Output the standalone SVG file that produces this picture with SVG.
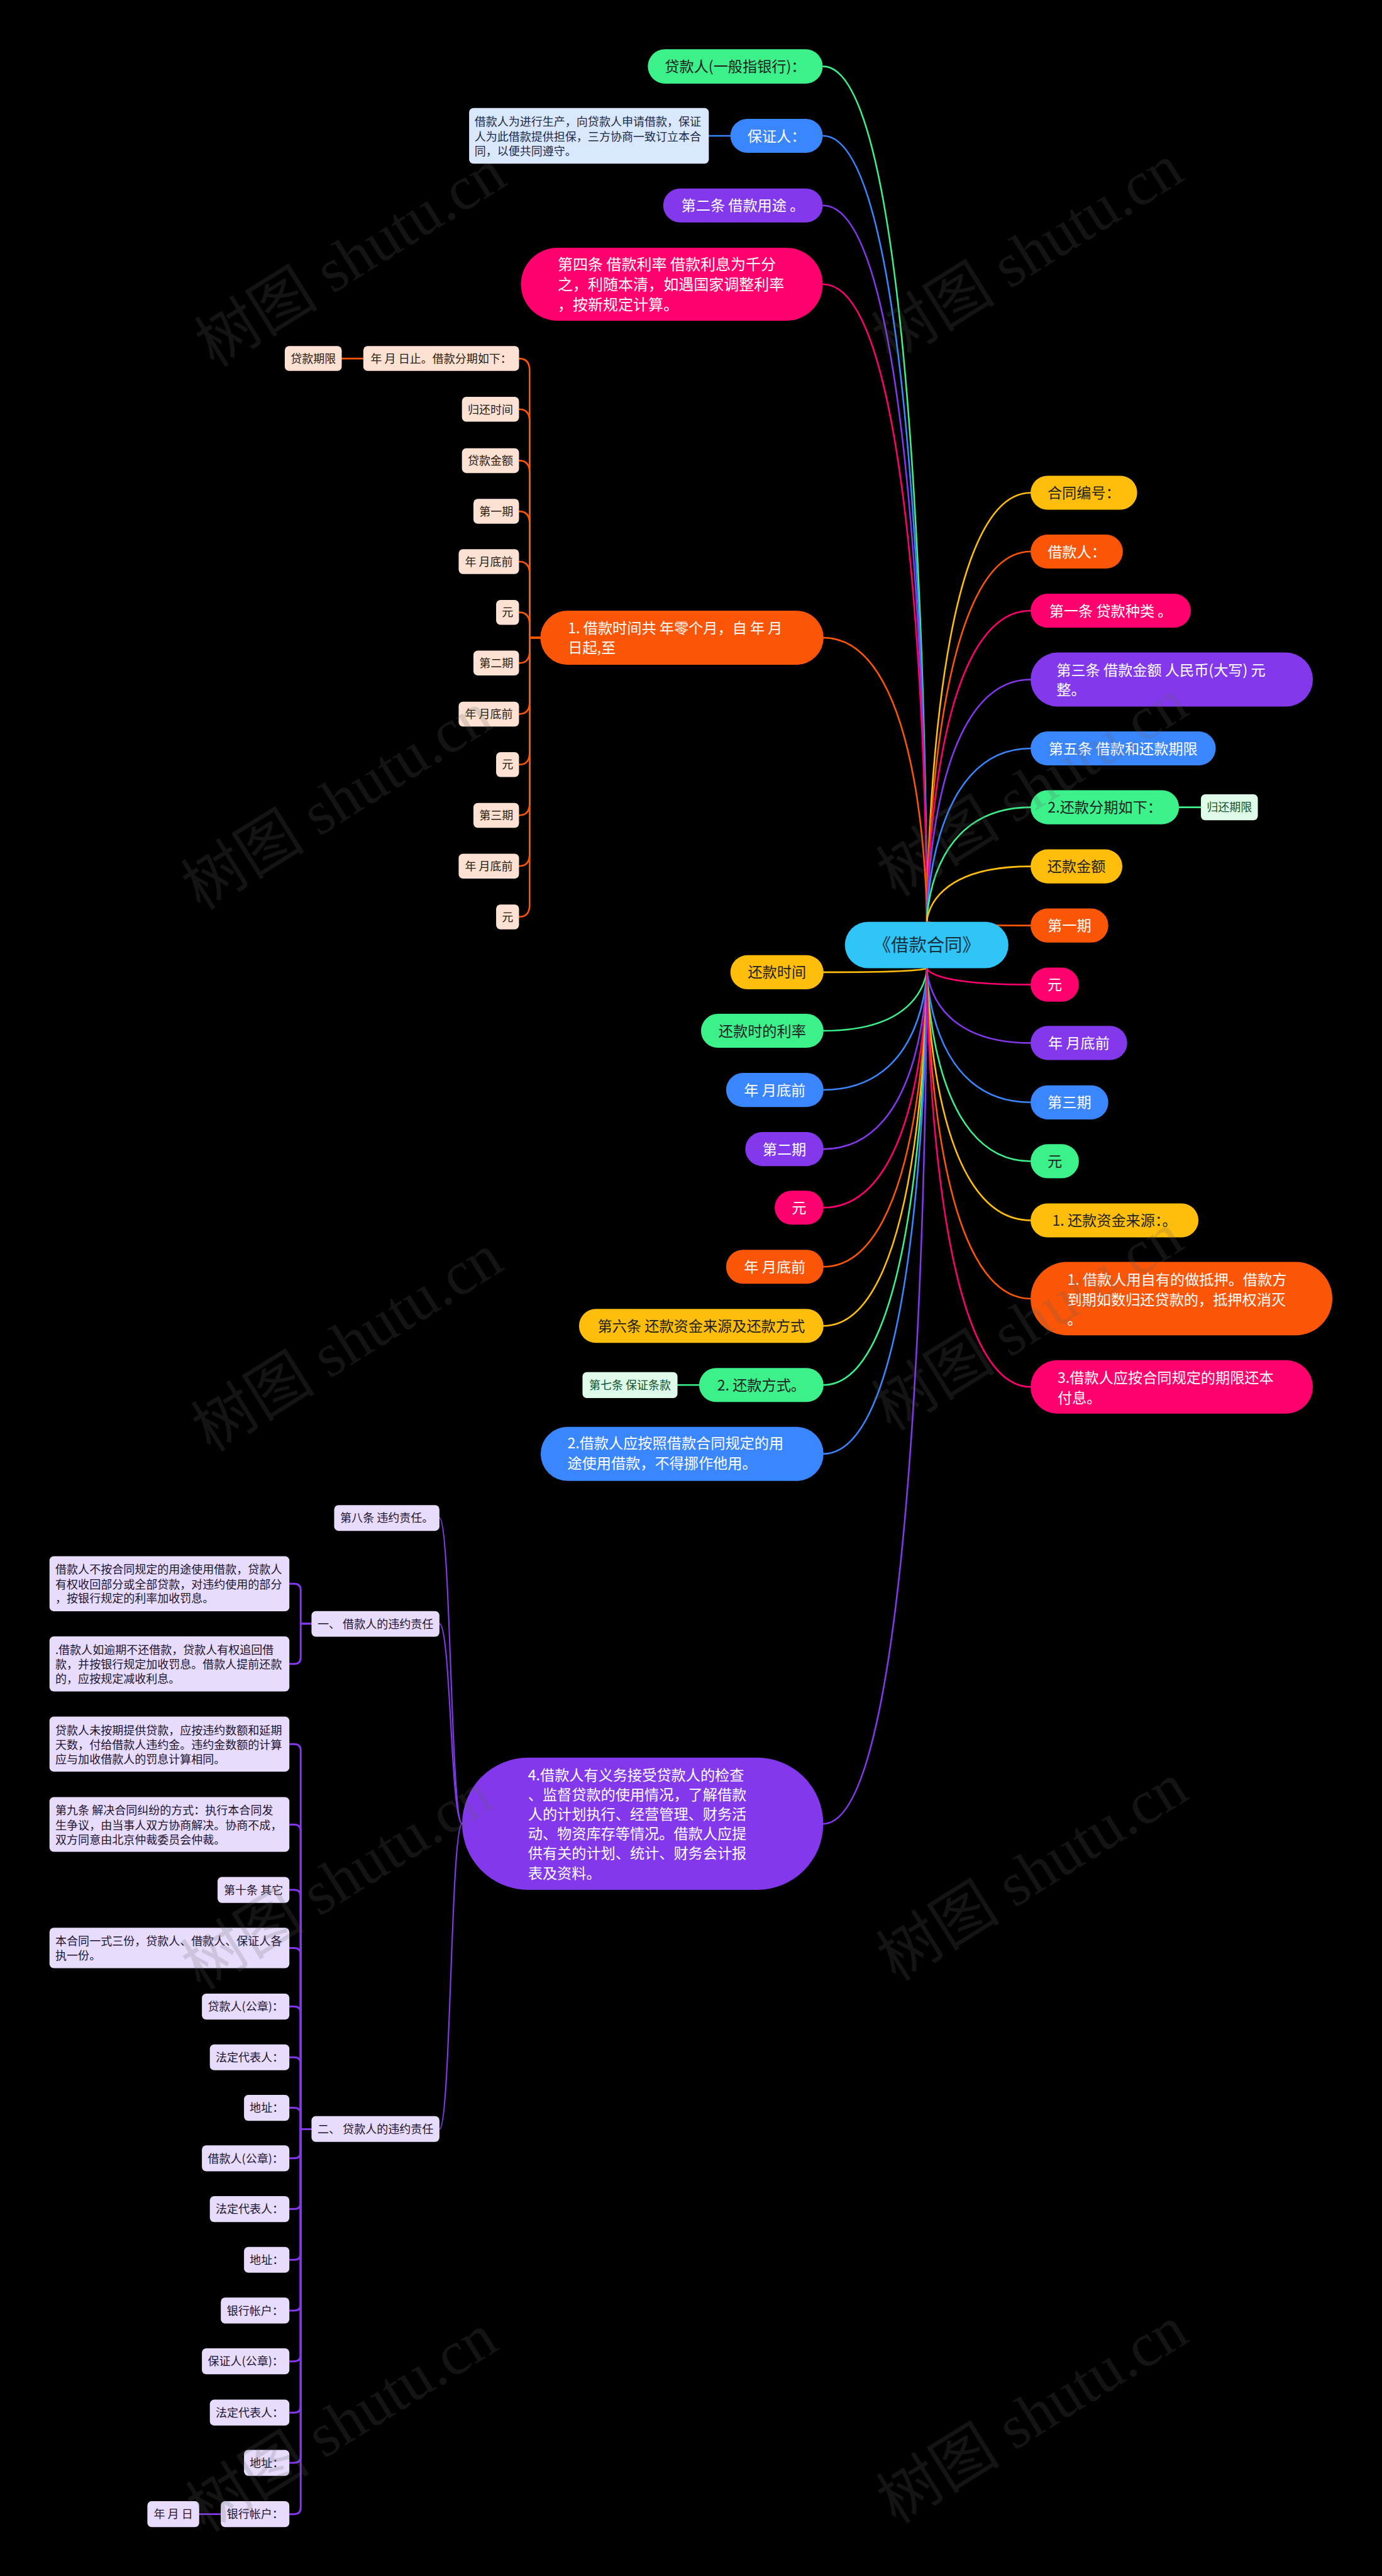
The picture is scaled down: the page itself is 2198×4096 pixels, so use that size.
<svg xmlns="http://www.w3.org/2000/svg" width="2198" height="4096" viewBox="0 0 2198 4096">
<defs>
<style>
text { font-family: 'Noto Sans CJK SC', 'Noto Sans', sans-serif; }
.c { text-anchor: middle; }
.f27 { font-size: 27px; }
.f28 { font-size: 28px; }
.f21 { font-size: 21px; }
.fr { font-size: 33px; fill: #17303f; }
.w { fill: #ffffff; }
.d { fill: #1f1f1f; }
.Y { fill: #ffbe0b; } .O { fill: #fb5607; } .P { fill: #ff006e; } .V { fill: #8338ec; } .B { fill: #3a86ff; } .G { fill: #3cf08a; } .R { fill: #2fc5f7; }
.pe { fill: #fde2d3; } .pet { fill: #2a1a10; }
.lp { fill: #e7dcfb; } .lpt { fill: #1e1432; }
.lg { fill: #ddfbe8; } .lgt { fill: #14532d; }
.lb { fill: #dae8fd; } .lbt { fill: #1c2a44; }
.lk { fill: none; stroke-width: 3; stroke-linecap: round; stroke-linejoin: round; }
.sY { stroke: #ffbe0b; } .sO { stroke: #fb5607; } .sP { stroke: #ff006e; } .sV { stroke: #8338ec; } .sB { stroke: #3a86ff; } .sG { stroke: #3cf08a; }
.thin { stroke-width: 2.5; }
.thick { stroke-width: 3.5; }
.wm { font-family: 'Liberation Serif', 'Noto Sans CJK SC', serif; font-size: 115px; fill: #646464; opacity: 0.2; text-anchor: middle; }
</style>
</defs>
<rect x="0" y="0" width="2198" height="4096" fill="#000000"/>
<g transform="scale(0.8586)">
<g id="connectors">
<path class="lk sG" d="M1525 123 C1717 123 1717 1707 1717 1707"/>
<path class="lk sB" d="M1525 251.5 C1717 251.5 1717 1707 1717 1707"/>
<path class="lk sV" d="M1525 380.5 C1717 380.5 1717 1707 1717 1707"/>
<path class="lk sP" d="M1525 526.5 C1717 526.5 1717 1707 1717 1707"/>
<path class="lk sO" d="M1525 1181 C1717 1181 1717 1707 1717 1707"/>
<path class="lk sY" d="M1525 1800.5 C1717 1800.5 1717 1793 1717 1793"/>
<path class="lk sG" d="M1525 1909 C1717 1909 1717 1793 1717 1793"/>
<path class="lk sB" d="M1525 2018.5 C1717 2018.5 1717 1793 1717 1793"/>
<path class="lk sV" d="M1525 2128 C1717 2128 1717 1793 1717 1793"/>
<path class="lk sP" d="M1525 2236.5 C1717 2236.5 1717 1793 1717 1793"/>
<path class="lk sO" d="M1525 2346 C1717 2346 1717 1793 1717 1793"/>
<path class="lk sY" d="M1525 2455.5 C1717 2455.5 1717 1793 1717 1793"/>
<path class="lk sG" d="M1525 2565 C1717 2565 1717 1793 1717 1793"/>
<path class="lk sB" d="M1525 2692.5 C1717 2692.5 1717 1793 1717 1793"/>
<path class="lk sV" d="M1525 3377.5 C1717 3377.5 1717 1793 1717 1793"/>
<path class="lk sY" d="M1909 912.5 C1717 912.5 1717 1707 1717 1707"/>
<path class="lk sO" d="M1909 1021.5 C1717 1021.5 1717 1707 1717 1707"/>
<path class="lk sP" d="M1909 1131 C1717 1131 1717 1707 1717 1707"/>
<path class="lk sV" d="M1909 1258.5 C1717 1258.5 1717 1707 1717 1707"/>
<path class="lk sB" d="M1909 1386 C1717 1386 1717 1707 1717 1707"/>
<path class="lk sG" d="M1909 1495 C1717 1495 1717 1707 1717 1707"/>
<path class="lk sY" d="M1909 1604.5 C1717 1604.5 1717 1707 1717 1707"/>
<path class="lk sO" d="M1909 1714 C1717 1714 1717 1707 1717 1707"/>
<path class="lk sP" d="M1909 1823.5 C1717 1823.5 1717 1793 1717 1793"/>
<path class="lk sV" d="M1909 1931.5 C1717 1931.5 1717 1793 1717 1793"/>
<path class="lk sB" d="M1909 2041.5 C1717 2041.5 1717 1793 1717 1793"/>
<path class="lk sG" d="M1909 2150.5 C1717 2150.5 1717 1793 1717 1793"/>
<path class="lk sY" d="M1909 2260 C1717 2260 1717 1793 1717 1793"/>
<path class="lk sO" d="M1909 2405 C1717 2405 1717 1793 1717 1793"/>
<path class="lk sP" d="M1909 2568.5 C1717 2568.5 1717 1793 1717 1793"/>
<path class="lk sB" d="M1313 251.5 L1353 251.5"/>
<path class="lk sG" d="M1255 2565 L1295 2565"/>
<path class="lk sG" d="M2184 1495 L2224.5 1495"/>
<path class="lk sO" d="M633 664 L673 664"/>
<path class="lk sV" d="M369 4656 L409 4656"/>
<path class="lk sO" d="M961.4 664 Q981 664 981 686 L981 1181 L1001 1181"/>
<path class="lk sO" d="M961.4 758 Q981 758 981 780 L981 1181 L1001 1181"/>
<path class="lk sO" d="M961.4 853 Q981 853 981 875 L981 1181 L1001 1181"/>
<path class="lk sO" d="M961.4 947 Q981 947 981 969 L981 1181 L1001 1181"/>
<path class="lk sO" d="M961.4 1040 Q981 1040 981 1062 L981 1181 L1001 1181"/>
<path class="lk sO" d="M961.4 1134 Q981 1134 981 1156 L981 1181 L1001 1181"/>
<path class="lk sO" d="M961.4 1228 Q981 1228 981 1206 L981 1181 L1001 1181"/>
<path class="lk sO" d="M961.4 1322.5 Q981 1322.5 981 1300.5 L981 1181 L1001 1181"/>
<path class="lk sO" d="M961.4 1416 Q981 1416 981 1394 L981 1181 L1001 1181"/>
<path class="lk sO" d="M961.4 1510 Q981 1510 981 1488 L981 1181 L1001 1181"/>
<path class="lk sO" d="M961.4 1604 Q981 1604 981 1582 L981 1181 L1001 1181"/>
<path class="lk sO" d="M961.4 1698 Q981 1698 981 1676 L981 1181 L1001 1181"/>
<path class="lk sV thin" d="M814 2811 C835 2811 835 3377.5 856 3377.5"/>
<path class="lk sV thin" d="M814 3007 C835 3007 835 3377.5 856 3377.5"/>
<path class="lk sV thin" d="M814 3943 C835 3943 835 3377.5 856 3377.5"/>
<path class="lk sV thick" d="M536 2933 L545 2933 Q557 2933 557 2945 L557 3007 L577 3007"/>
<path class="lk sV thick" d="M536 3081.5 L545 3081.5 Q557 3081.5 557 3069.5 L557 3007 L577 3007"/>
<path class="lk sV thick" d="M536 3230 L545 3230 Q557 3230 557 3242 L557 3943 L577 3943"/>
<path class="lk sV thick" d="M536 3379 L545 3379 Q557 3379 557 3391 L557 3943"/>
<path class="lk sV thick" d="M536 3500 L545 3500 Q557 3500 557 3512 L557 3943"/>
<path class="lk sV thick" d="M536 3607.5 L545 3607.5 Q557 3607.5 557 3619.5 L557 3943"/>
<path class="lk sV thick" d="M536 3716 L545 3716 Q557 3716 557 3728 L557 3943"/>
<path class="lk sV thick" d="M536 3810 L545 3810 Q557 3810 557 3822 L557 3943"/>
<path class="lk sV thick" d="M536 3903.5 L545 3903.5 Q557 3903.5 557 3915.5 L557 3943"/>
<path class="lk sV thick" d="M536 3997 L545 3997 Q557 3997 557 3985 L557 3943"/>
<path class="lk sV thick" d="M536 4091 L545 4091 Q557 4091 557 4079 L557 3943"/>
<path class="lk sV thick" d="M536 4185 L545 4185 Q557 4185 557 4173 L557 3943"/>
<path class="lk sV thick" d="M536 4279 L545 4279 Q557 4279 557 4267 L557 3943"/>
<path class="lk sV thick" d="M536 4373 L545 4373 Q557 4373 557 4361 L557 3943"/>
<path class="lk sV thick" d="M536 4468 L545 4468 Q557 4468 557 4456 L557 3943"/>
<path class="lk sV thick" d="M536 4561 L545 4561 Q557 4561 557 4549 L557 3943"/>
<path class="lk sV thick" d="M536 4656 L545 4656 Q557 4656 557 4644 L557 3943"/>
</g>

<g id="n_root"><rect class="R" x="1565" y="1707" width="303" height="86" rx="43"/><text class="c fr" x="1716.5" y="1762">《借款合同》</text></g>

<g id="n_daikuanren"><rect class="G" x="1200" y="91" width="324" height="64" rx="32"/><text class="c f27 d" x="1362" y="133">贷款人(一般指银行)：</text></g>
<g id="n_baozhengren"><rect class="B" x="1353" y="220" width="171" height="63" rx="31.5"/><text class="c f27 w" x="1438.5" y="261.5">保证人：</text></g>
<g id="n_baozheng_desc"><rect class="lb" x="869" y="200" width="444" height="103" rx="8"/><text class="f21 lbt"><tspan x="879" y="232.5">借款人为进行生产，向贷款人申请借款，保证</tspan><tspan x="879" y="260.5">人为此借款提供担保，三方协商一致订立本合</tspan><tspan x="879" y="288">同，以便共同遵守。</tspan></text></g>
<g id="n_dier"><rect class="V" x="1228.5" y="349" width="295.5" height="63" rx="31.5"/><text class="c f27 w" x="1376" y="390.5">第二条 借款用途 。</text></g>
<g id="n_disi"><rect class="P" x="965" y="459" width="559" height="135" rx="67.5"/><text class="f28 w"><tspan x="1033" y="500">第四条 借款利率 借款利息为千分</tspan><tspan x="1033" y="537">之，利随本清，如遇国家调整利率</tspan><tspan x="1033" y="574">，按新规定计算。</tspan></text></g>
<g id="n_jiekuanshijian"><rect class="O" x="1001" y="1131" width="524.5" height="100" rx="50"/><text class="f27 w"><tspan x="1052" y="1172.5">1. 借款时间共 年零个月，自 年 月</tspan><tspan x="1052" y="1208.5">日起,至</tspan></text></g>

<g id="n_zhi"><rect class="pe" x="673" y="641" width="288.5" height="46" rx="8"/><text class="c f21 pet" x="817.25" y="671.8">年 月 日止。借款分期如下：</text></g>
<g id="n_daikuanqixian"><rect class="pe" x="527.5" y="641" width="105.5" height="46" rx="8"/><text class="c f21 pet" x="580.25" y="671.8">贷款期限</text></g>
<g id="n_guihuanshijian"><rect class="pe" x="855.7" y="735" width="105.7" height="46" rx="8"/><text class="c f21 pet" x="908.5" y="765.8">归还时间</text></g>
<g id="n_daikuanjine"><rect class="pe" x="855.7" y="830" width="105.7" height="46" rx="8"/><text class="c f21 pet" x="908.5" y="860.8">贷款金额</text></g>
<g id="n_o_diyiqi"><rect class="pe" x="877" y="924" width="84.4" height="46" rx="8"/><text class="c f21 pet" x="919.2" y="954.8">第一期</text></g>
<g id="n_o_nianyue1"><rect class="pe" x="849.6" y="1017" width="111.8" height="46" rx="8"/><text class="c f21 pet" x="905.5" y="1047.8">年 月底前</text></g>
<g id="n_o_yuan1"><rect class="pe" x="919" y="1111" width="42.4" height="46" rx="8"/><text class="c f21 pet" x="940.2" y="1141.8">元</text></g>
<g id="n_o_dierqi"><rect class="pe" x="877" y="1205" width="84.4" height="46" rx="8"/><text class="c f21 pet" x="919.2" y="1235.8">第二期</text></g>
<g id="n_o_nianyue2"><rect class="pe" x="849.6" y="1299.5" width="111.8" height="46" rx="8"/><text class="c f21 pet" x="905.5" y="1330.3">年 月底前</text></g>
<g id="n_o_yuan2"><rect class="pe" x="919" y="1393" width="42.4" height="46" rx="8"/><text class="c f21 pet" x="940.2" y="1423.8">元</text></g>
<g id="n_o_disanqi"><rect class="pe" x="877" y="1487" width="84.4" height="46" rx="8"/><text class="c f21 pet" x="919.2" y="1517.8">第三期</text></g>
<g id="n_o_nianyue3"><rect class="pe" x="849.6" y="1581" width="111.8" height="46" rx="8"/><text class="c f21 pet" x="905.5" y="1611.8">年 月底前</text></g>
<g id="n_o_yuan3"><rect class="pe" x="919" y="1675" width="42.4" height="46" rx="8"/><text class="c f21 pet" x="940.2" y="1705.8">元</text></g>

<g id="n_huankuanshijian"><rect class="Y" x="1353" y="1769" width="172.5" height="63" rx="31.5"/><text class="c f27 d" x="1439.25" y="1810.5">还款时间</text></g>
<g id="n_lilv"><rect class="G" x="1298.5" y="1877.5" width="227" height="63" rx="31.5"/><text class="c f27 d" x="1412" y="1919">还款时的利率</text></g>
<g id="n_nianyue_b"><rect class="B" x="1345" y="1987" width="180.5" height="63" rx="31.5"/><text class="c f27 w" x="1435.25" y="2028.5">年 月底前</text></g>
<g id="n_dierqi"><rect class="V" x="1380.5" y="2096.5" width="145" height="63" rx="31.5"/><text class="c f27 w" x="1453" y="2138">第二期</text></g>
<g id="n_yuan_p"><rect class="P" x="1435" y="2205" width="90.5" height="63" rx="31.5"/><text class="c f27 w" x="1480.25" y="2246.5">元</text></g>
<g id="n_nianyue_o"><rect class="O" x="1345" y="2314.5" width="180.5" height="63" rx="31.5"/><text class="c f27 w" x="1435.25" y="2356">年 月底前</text></g>
<g id="n_diliu"><rect class="Y" x="1072.5" y="2424" width="453" height="63" rx="31.5"/><text class="c f27 d" x="1299" y="2465.5">第六条 还款资金来源及还款方式</text></g>
<g id="n_huankuanfangshi"><rect class="G" x="1295" y="2533.5" width="230.5" height="63" rx="31.5"/><text class="c f27 d" x="1410.25" y="2575">2. 还款方式。</text></g>
<g id="n_diqi"><rect class="lg" x="1079" y="2541" width="176" height="48" rx="8"/><text class="c f21 lgt" x="1167" y="2572.8">第七条 保证条款</text></g>
<g id="n_anzhao"><rect class="B" x="1001.5" y="2642.5" width="524" height="100" rx="50"/><text class="f27 w"><tspan x="1051" y="2682">2.借款人应按照借款合同规定的用</tspan><tspan x="1051" y="2720">途使用借款，不得挪作他用。</tspan></text></g>
<g id="n_yiwu"><rect class="V" x="856" y="3255" width="669" height="245" rx="122.5"/><text class="f27 w"><tspan x="978" y="3297">4.借款人有义务接受贷款人的检查</tspan><tspan x="978" y="3333.5">、监督贷款的使用情况，了解借款</tspan><tspan x="978" y="3370">人的计划执行、经营管理、财务活</tspan><tspan x="978" y="3406">动、物资库存等情况。借款人应提</tspan><tspan x="978" y="3442">供有关的计划、统计、财务会计报</tspan><tspan x="978" y="3478.5">表及资料。</tspan></text></g>

<g id="n_hetongbianhao"><rect class="Y" x="1909" y="881" width="197.5" height="63" rx="31.5"/><text class="c f27 d" x="2007.75" y="922.5">合同编号：</text></g>
<g id="n_jiekuanren"><rect class="O" x="1909" y="990" width="171" height="63" rx="31.5"/><text class="c f27 w" x="1994.5" y="1031.5">借款人：</text></g>
<g id="n_diyi"><rect class="P" x="1909" y="1099.5" width="297" height="63" rx="31.5"/><text class="c f27 w" x="2057.5" y="1141">第一条 贷款种类 。</text></g>
<g id="n_disan"><rect class="V" x="1909" y="1208.5" width="523" height="100" rx="50"/><text class="f27 w"><tspan x="1957" y="1251">第三条 借款金额 人民币(大写) 元</tspan><tspan x="1957" y="1287">整。</tspan></text></g>
<g id="n_diwu"><rect class="B" x="1909" y="1354.5" width="343" height="63" rx="31.5"/><text class="c f27 w" x="2080.5" y="1396">第五条 借款和还款期限</text></g>
<g id="n_fenqi"><rect class="G" x="1909" y="1463.5" width="275" height="63" rx="31.5"/><text class="c f27 d" x="2046.5" y="1505">2.还款分期如下：</text></g>
<g id="n_guihuanqixian"><rect class="lg" x="2224.5" y="1471" width="105.5" height="48" rx="8"/><text class="c f21 lgt" x="2277.25" y="1502.8">归还期限</text></g>
<g id="n_huankuanjine"><rect class="Y" x="1909" y="1573" width="170" height="63" rx="31.5"/><text class="c f27 d" x="1994" y="1614.5">还款金额</text></g>
<g id="n_diyiqi"><rect class="O" x="1909" y="1682.5" width="144" height="63" rx="31.5"/><text class="c f27 w" x="1981" y="1724">第一期</text></g>
<g id="n_yuan_p2"><rect class="P" x="1909" y="1792" width="89.5" height="63" rx="31.5"/><text class="c f27 w" x="1953.75" y="1833.5">元</text></g>
<g id="n_nianyue_v"><rect class="V" x="1909" y="1900" width="179" height="63" rx="31.5"/><text class="c f27 w" x="1998.5" y="1941.5">年 月底前</text></g>
<g id="n_disanqi"><rect class="B" x="1909" y="2010" width="144" height="63" rx="31.5"/><text class="c f27 w" x="1981" y="2051.5">第三期</text></g>
<g id="n_yuan_g"><rect class="G" x="1909" y="2119" width="89.5" height="63" rx="31.5"/><text class="c f27 d" x="1953.75" y="2160.5">元</text></g>
<g id="n_laiyuan"><rect class="Y" x="1909" y="2228.5" width="311" height="63" rx="31.5"/><text class="c f27 d" x="2064.5" y="2270">1. 还款资金来源：。</text></g>
<g id="n_diya"><rect class="O" x="1909" y="2337" width="559" height="136" rx="68"/><text class="f27 w"><tspan x="1977" y="2380">1. 借款人用自有的做抵押。借款方</tspan><tspan x="1977" y="2416.5">到期如数归还贷款的，抵押权消灭</tspan><tspan x="1977" y="2453">。</tspan></text></g>
<g id="n_huanben"><rect class="P" x="1909" y="2519" width="523" height="99" rx="49.5"/><text class="f27 w"><tspan x="1959" y="2561.5">3.借款人应按合同规定的期限还本</tspan><tspan x="1959" y="2598">付息。</tspan></text></g>

<g id="n_diba"><rect class="lp" x="619" y="2787.5" width="195" height="47.5" rx="8"/><text class="c f21 lpt" x="716.5" y="2818.8">第八条 违约责任。</text></g>
<g id="n_yi"><rect class="lp" x="577" y="2983.5" width="237" height="47.5" rx="8"/><text class="c f21 lpt" x="695.5" y="3014.8">一、 借款人的违约责任</text></g>
<g id="n_er"><rect class="lp" x="577" y="3919" width="237" height="47.5" rx="8"/><text class="c f21 lpt" x="695.5" y="3950.5">二、 贷款人的违约责任</text></g>
<g id="n_d1"><rect class="lp" x="91.7" y="2882" width="444.3" height="102" rx="8"/><text class="f21 lpt"><tspan x="102.6" y="2914.5">借款人不按合同规定的用途使用借款，贷款人</tspan><tspan x="102.6" y="2941.5">有权收回部分或全部贷款，对违约使用的部分</tspan><tspan x="102.6" y="2968">，按银行规定的利率加收罚息。</tspan></text></g>
<g id="n_d2"><rect class="lp" x="91.7" y="3030.5" width="444.3" height="102" rx="8"/><text class="f21 lpt"><tspan x="102.6" y="3063.5">.借款人如逾期不还借款，贷款人有权追回借</tspan><tspan x="102.6" y="3089.5">款，并按银行规定加收罚息。借款人提前还款</tspan><tspan x="102.6" y="3116.5">的，应按规定减收利息。</tspan></text></g>
<g id="n_d3"><rect class="lp" x="91.7" y="3179" width="444.3" height="102" rx="8"/><text class="f21 lpt"><tspan x="102.6" y="3212">贷款人未按期提供贷款，应按违约数额和延期</tspan><tspan x="102.6" y="3239">天数，付给借款人违约金。违约金数额的计算</tspan><tspan x="102.6" y="3266">应与加收借款人的罚息计算相同。</tspan></text></g>
<g id="n_d4"><rect class="lp" x="91.7" y="3328" width="444.3" height="101.5" rx="8"/><text class="f21 lpt"><tspan x="102.6" y="3360.5">第九条 解决合同纠纷的方式：执行本合同发</tspan><tspan x="102.6" y="3387.5">生争议，由当事人双方协商解决。协商不成，</tspan><tspan x="102.6" y="3414.5">双方同意由北京仲裁委员会仲裁。</tspan></text></g>
<g id="n_d5"><rect class="lp" x="403" y="3476" width="133" height="48" rx="8"/><text class="c f21 lpt" x="469.5" y="3507.8">第十条 其它</text></g>
<g id="n_d6"><rect class="lp" x="91.7" y="3570" width="444.3" height="75" rx="8"/><text class="f21 lpt"><tspan x="102.6" y="3602.5">本合同一式三份，贷款人、借款人、保证人各</tspan><tspan x="102.6" y="3629.5">执一份。</tspan></text></g>
<g id="n_d7"><rect class="lp" x="374" y="3692" width="162" height="48" rx="8"/><text class="c f21 lpt" x="455" y="3723.8">贷款人(公章)：</text></g>
<g id="n_d8"><rect class="lp" x="388.7" y="3786" width="147.3" height="48" rx="8"/><text class="c f21 lpt" x="462.35" y="3817.8">法定代表人：</text></g>
<g id="n_d9"><rect class="lp" x="452" y="3879.5" width="84" height="48" rx="8"/><text class="c f21 lpt" x="494" y="3911.3">地址：</text></g>
<g id="n_d10"><rect class="lp" x="374" y="3973" width="162" height="48" rx="8"/><text class="c f21 lpt" x="455" y="4004.8">借款人(公章)：</text></g>
<g id="n_d11"><rect class="lp" x="388.7" y="4067" width="147.3" height="48" rx="8"/><text class="c f21 lpt" x="462.35" y="4098.8">法定代表人：</text></g>
<g id="n_d12"><rect class="lp" x="452" y="4161" width="84" height="48" rx="8"/><text class="c f21 lpt" x="494" y="4192.8">地址：</text></g>
<g id="n_d13"><rect class="lp" x="409" y="4255" width="127" height="48" rx="8"/><text class="c f21 lpt" x="472.5" y="4286.8">银行帐户：</text></g>
<g id="n_d14"><rect class="lp" x="374" y="4349" width="162" height="48" rx="8"/><text class="c f21 lpt" x="455" y="4380.8">保证人(公章)：</text></g>
<g id="n_d15"><rect class="lp" x="388.7" y="4444" width="147.3" height="48" rx="8"/><text class="c f21 lpt" x="462.35" y="4475.8">法定代表人：</text></g>
<g id="n_d16"><rect class="lp" x="452" y="4537" width="84" height="48" rx="8"/><text class="c f21 lpt" x="494" y="4568.8">地址：</text></g>
<g id="n_d17"><rect class="lp" x="409" y="4632" width="127" height="48" rx="8"/><text class="c f21 lpt" x="472.5" y="4663.8">银行帐户：</text></g>
<g id="n_d18"><rect class="lp" x="273" y="4632" width="96" height="48" rx="8"/><text class="c f21 lpt" x="321" y="4663.8">年 月 日</text></g>

<g id="watermark">
<text class="wm" transform="translate(670 511) rotate(-32)">树图 shutu.cn</text>
<text class="wm" transform="translate(1924 502) rotate(-32)">树图 shutu.cn</text>
<text class="wm" transform="translate(645 1516) rotate(-32)">树图 shutu.cn</text>
<text class="wm" transform="translate(1933 1492) rotate(-32)">树图 shutu.cn</text>
<text class="wm" transform="translate(664 2520) rotate(-32)">树图 shutu.cn</text>
<text class="wm" transform="translate(1924 2481) rotate(-32)">树图 shutu.cn</text>
<text class="wm" transform="translate(645 3516) rotate(-32)">树图 shutu.cn</text>
<text class="wm" transform="translate(1933 3500) rotate(-32)">树图 shutu.cn</text>
<text class="wm" transform="translate(654 4520) rotate(-32)">树图 shutu.cn</text>
<text class="wm" transform="translate(1933 4505) rotate(-32)">树图 shutu.cn</text>
</g>
</g>
</svg>
